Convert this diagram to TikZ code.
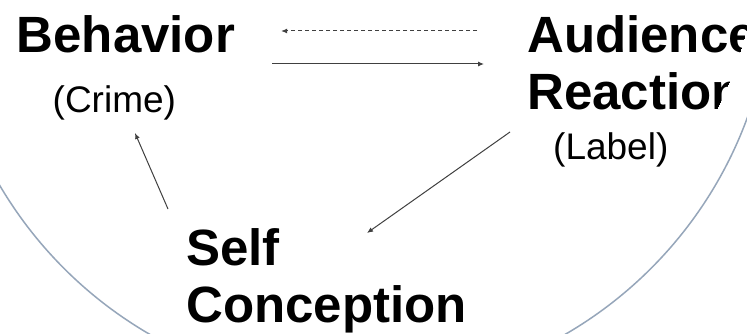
\documentclass[tikz,border=0pt]{standalone}
\usepackage{fontspec}
\setmainfont{Liberation Sans}
\usetikzlibrary{arrows.meta}

\definecolor{rimblue}{RGB}{150,166,186}
\tikzset{
  bigword/.style={font=\fontsize{51}{57}\selectfont\bfseries, inner sep=0pt, anchor=base west, align=left},
  smallword/.style={font=\fontsize{37}{44}\selectfont, inner sep=0pt, anchor=base west},
  link/.style={draw=black!75, line width=1pt, -{Latex[length=6pt,width=5pt]}},
}

\begin{document}
\begin{tikzpicture}[x=1pt,y=-1pt]

\useasboundingbox (0,0) rectangle (747,334);
\clip (0,0) rectangle (747,334);
\fill[white] (0,0) rectangle (747,334);

% the big ring
\draw[rimblue, line width=1.5pt] (357.5,-25) circle[radius=415pt];

\node[bigword] (behav) at (16.5,53) {Behavior};
\node[smallword] (crime) at (52.5,113) {(Crime)};

% base of a two line node is its last line
\begin{scope}
    \clip (357.5,-69) circle[radius=401pt];
    \node[bigword] (aud) at (527,110) {Audience\\Reaction};
\end{scope}
\node[smallword] (label) at (553,160) {(Label)};

\node[bigword] (self) at (186,322) {Self\\Conception};

% arrows between the words
\draw[link, dash pattern=on 4pt off 3pt] ([xshift=-50pt,yshift=79pt]aud.base west) -- ([xshift=46pt,yshift=22pt]behav.base east);
\draw[link] ([xshift=37pt,yshift=-11pt]behav.base east) -- ([xshift=-43pt,yshift=46pt]aud.base west);
\draw[link] ([xshift=-43pt,yshift=28pt]label.base west) -- ([xshift=181pt,yshift=89pt]self.base west);
\draw[link] ([xshift=-18pt,yshift=113pt]self.base west) -- ([xshift=82.5pt,yshift=-20pt]crime.base west);

\end{tikzpicture}
\end{document}
